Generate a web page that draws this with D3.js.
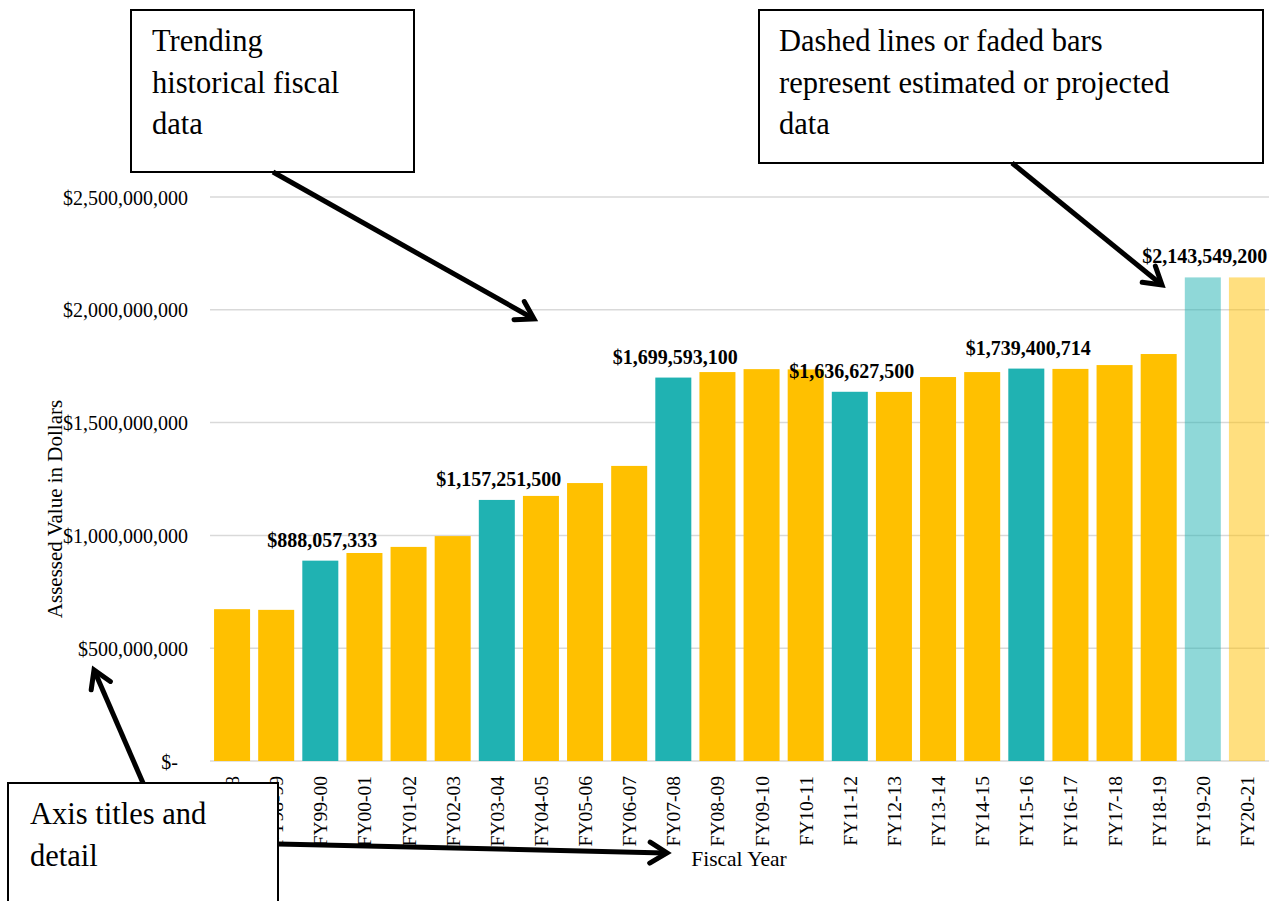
<!DOCTYPE html>
<html>
<head>
<meta charset="utf-8">
<script src="https://cdn.jsdelivr.net/npm/d3@7/dist/d3.min.js"></script>
<style>
  html, body { margin: 0; padding: 0; background: #fff; }
  svg { display: block; }
  svg text { font-family: 'Liberation Serif', 'Times New Roman', serif; }
</style>
</head>
<body>
<svg id="chart" width="1276" height="901"></svg>
<script>
// ---- Data ----
const categories = ["FY97-98","FY98-99","FY99-00","FY00-01","FY01-02","FY02-03","FY03-04","FY04-05",
  "FY05-06","FY06-07","FY07-08","FY08-09","FY09-10","FY10-11","FY11-12","FY12-13","FY13-14",
  "FY14-15","FY15-16","FY16-17","FY17-18","FY18-19","FY19-20","FY20-21"];
const assessedValues = [673000000, 670000000, 888057333, 922000000, 949000000, 997000000, 1157251500,
  1175000000, 1232000000, 1308000000, 1699593100, 1724000000, 1737000000, 1736000000, 1636627500,
  1636000000, 1702000000, 1724000000, 1739400714, 1738000000, 1755000000, 1804000000, 2143549200, 2143549200];
const reappraisalYears = ["FY99-00","FY03-04","FY07-08","FY11-12","FY15-16","FY19-20"];
const projectedYears = ["FY19-20","FY20-21"];
const yTickValues = [0, 500000000, 1000000000, 1500000000, 2000000000, 2500000000];
const yAxisTitle = "Assessed Value in Dollars";
const xAxisTitle = "Fiscal Year";
const notes = [
  {lines: ["Trending", "historical fiscal", "data"]},
  {lines: ["Dashed lines or faded bars", "represent estimated or projected", "data"]},
  {lines: ["Axis titles and", "detail"]}
];

const data = categories.map((c, i) => ({
  cat: c, value: assessedValues[i],
  reappraisal: reappraisalYears.includes(c),
  projected: projectedYears.includes(c)
}));

const SERIF = "'Liberation Serif', 'Times New Roman', serif";
const TEAL = "#20B2B2", GOLD = "#FFC000";
const svg = d3.select("#chart");

const x = d3.scaleBand().domain(categories).range([210, 1269]).paddingInner(0.184).paddingOuter(0.092);
const y = d3.scaleLinear().domain([0, 2500000000]).range([761, 197]);

// gridlines
svg.append("g").selectAll("line").data(yTickValues).join("line")
  .attr("x1", 210).attr("x2", 1269)
  .attr("y1", d => y(d)).attr("y2", d => y(d))
  .attr("stroke", "#d9d9d9").attr("stroke-width", 1.5);

// y axis
const fmt = d3.format(",");
const yAxis = d3.axisLeft(y).tickValues(yTickValues).tickSize(0).tickPadding(0)
  .tickFormat(d => d === 0 ? "$-" : "$" + fmt(d));
const yg = svg.append("g").attr("transform", "translate(188,0)").call(yAxis);
yg.attr("font-family", SERIF);
yg.select(".domain").remove();
yg.selectAll("text").attr("font-family", SERIF).attr("font-size", 20)
  .attr("fill", "#000").attr("dx", d => d === 0 ? -10 : 0).attr("dy", "0.35em");

// bars
svg.append("g").selectAll("rect").data(data).join("rect")
  .attr("x", d => x(d.cat)).attr("width", x.bandwidth())
  .attr("y", d => y(d.value)).attr("height", d => y(0) - y(d.value))
  .attr("fill", d => d.reappraisal ? TEAL : GOLD)
  .attr("fill-opacity", d => d.projected ? 0.5 : 1);

// x axis labels
const xAxis = d3.axisBottom(x).tickSize(0).tickPadding(0);
const xg = svg.append("g").attr("transform", `translate(0,${y(0)})`).call(xAxis);
xg.attr("font-family", SERIF);
xg.select(".domain").remove();
xg.selectAll("text")
  .attr("font-family", SERIF).attr("font-size", 19.5).attr("fill", "#000")
  .attr("text-anchor", "end")
  .attr("transform", "rotate(-90)")
  .attr("x", -15).attr("y", 0).attr("dy", "0.36em");

// value labels
svg.append("g").selectAll("text").data(data.filter(d => d.reappraisal)).join("text")
  .attr("x", d => x(d.cat) + x.bandwidth() / 2 + 2)
  .attr("y", d => y(d.value) - 14)
  .attr("text-anchor", "middle")
  .attr("font-family", SERIF)
  .attr("font-size", 20).attr("font-weight", "bold").attr("fill", "#000")
  .text(d => "$" + fmt(d.value));

// axis titles
svg.append("text").attr("transform", "translate(62,509) rotate(-90)")
  .attr("font-family", SERIF)
  .attr("text-anchor", "middle").attr("font-size", 21).attr("fill", "#000").text(yAxisTitle);
svg.append("text").attr("x", 739).attr("y", 866)
  .attr("font-family", SERIF)
  .attr("text-anchor", "middle").attr("font-size", 21.5).attr("fill", "#000").text(xAxisTitle);

// annotation boxes
function box(x0, y0, w, h, tx, ty, lines) {
  const g = svg.append("g");
  g.append("rect").attr("x", x0).attr("y", y0).attr("width", w).attr("height", h)
    .attr("fill", "#fff").attr("stroke", "#000").attr("stroke-width", 2);
  const t = g.append("text").attr("font-family", SERIF).attr("font-size", 30.5).attr("fill", "#000");
  lines.forEach((l, i) => t.append("tspan").attr("x", tx).attr("y", ty + i * 41.5).text(l));
}
function arrow(x1, y1, x2, y2) {
  const g = svg.append("g");
  const a = Math.atan2(y2 - y1, x2 - x1);
  g.append("line").attr("x1", x1).attr("y1", y1).attr("x2", x2 - Math.cos(a) * 2).attr("y2", y2 - Math.sin(a) * 2)
    .attr("stroke", "#000").attr("stroke-width", 5);
  const L = 20, sp = 0.55;
  const p1 = [x2 - L * Math.cos(a - sp), y2 - L * Math.sin(a - sp)];
  const p2 = [x2 - L * Math.cos(a + sp), y2 - L * Math.sin(a + sp)];
  g.append("path").attr("d", `M${p1[0]},${p1[1]} L${x2},${y2} L${p2[0]},${p2[1]}`)
    .attr("fill", "none").attr("stroke", "#000").attr("stroke-width", 5)
    .attr("stroke-linecap", "round").attr("stroke-linejoin", "miter");
}

box(131, 10, 283, 162, 152, 51, notes[0].lines);
box(759, 10, 504, 153, 779, 51, notes[1].lines);
arrow(273, 172, 534, 319);
arrow(1012, 163, 1162, 285);
box(8, 783, 270, 140, 30, 824, notes[2].lines);
arrow(143, 783, 94, 670);
arrow(278, 844, 667, 853);
</script>
</body>
</html>
